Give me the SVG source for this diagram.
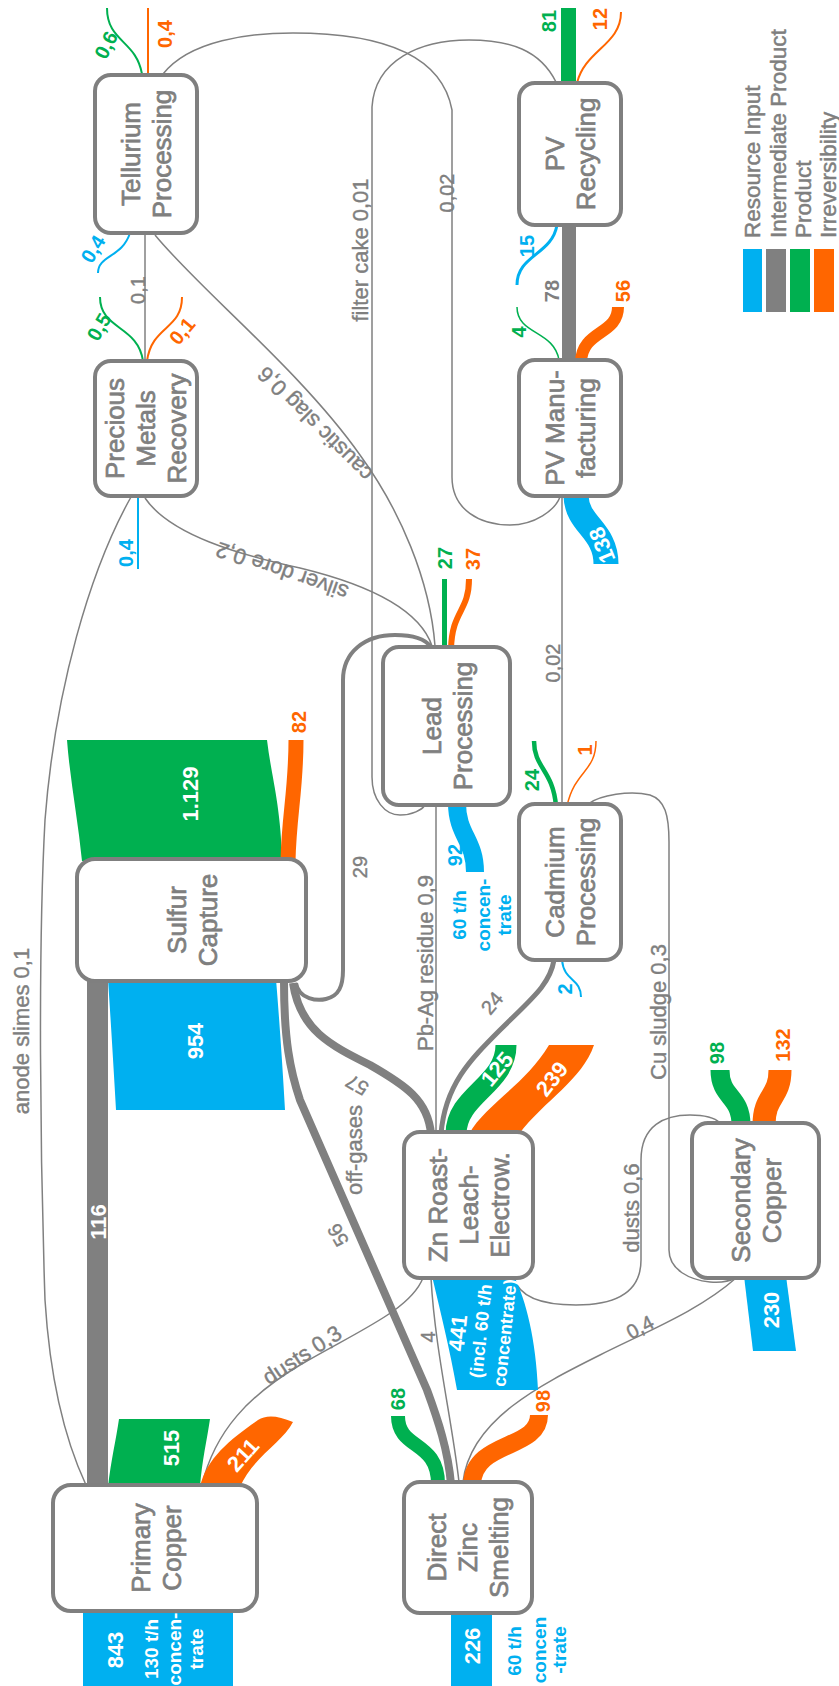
<svg xmlns="http://www.w3.org/2000/svg" width="839" height="1686" viewBox="0 0 839 1686">
<style>
.n{fill:#fff;stroke:#7f7f7f;stroke-width:4}
.nl{font-family:"Liberation Sans",Arial,sans-serif;font-size:26px;fill:#7f7f7f;stroke:#7f7f7f;stroke-width:0.7;text-anchor:middle}
.th{fill:none;stroke:#808080;stroke-width:1.5}
.b{fill:#00b0f0}.g{fill:#00b050}.o{fill:#ff6600}.gr{fill:#808080}
.sb{fill:none;stroke:#00b0f0}.sg{fill:none;stroke:#00b050}.so{fill:none;stroke:#ff6600}.sgr{fill:none;stroke:#808080}
.v{font-family:"Liberation Sans",Arial,sans-serif;font-size:20px;font-weight:bold;text-anchor:middle;dominant-baseline:central}
.vg{font-family:"Liberation Sans",Arial,sans-serif;font-size:20px;fill:#7f7f7f;stroke:#7f7f7f;stroke-width:0.4;text-anchor:middle;dominant-baseline:central}
.t{font-family:"Liberation Sans",Arial,sans-serif;font-size:22px;fill:#7f7f7f;stroke:#7f7f7f;stroke-width:0.4;text-anchor:middle}
.w{font-family:"Liberation Sans",Arial,sans-serif;font-size:22px;font-weight:bold;fill:#fff;text-anchor:middle;dominant-baseline:central}
.bt{font-family:"Liberation Sans",Arial,sans-serif;font-size:19px;font-weight:bold;text-anchor:middle}
.lg{font-family:"Liberation Sans",Arial,sans-serif;font-size:22.5px;fill:#7f7f7f;stroke:#7f7f7f;stroke-width:0.5}
.cb{fill:#00b0f0}.cg{fill:#00b050}.co{fill:#ff6600}.cw{fill:#fff}
</style>
<g id="connectors">
  <path class="th" d="M145,233 L145,361"/>
  <path class="th" d="M436,805 L436,1132"/>
  <path class="th" d="M562,496 L562,804"/>
  <path class="th" d="M431,1278 C435,1350 452,1420 459,1482"/>
  <path class="th" d="M202,1485 C215,1430 250,1395 300,1365 C360,1330 410,1310 423,1278"/>
  <path class="th" d="M86,1485 C65,1440 50,1380 45,1300 C40,1150 38,950 45,820 C55,690 90,570 131,497"/>
  <path class="th" d="M145,498 C170,535 240,555 300,568 C370,585 420,610 432,646"/>
  <path class="th" d="M155,235 C200,290 300,370 360,455 C400,510 430,580 435,646"/>
  <path class="th" d="M163,74 C190,40 250,33 293,33 C360,33 440,45 452,110 L452,477 C452,510 480,525 510,525 C535,525 555,510 560,497"/>
  <path class="th" d="M556,82 C540,50 510,40 469,40 C420,40 375,60 372,107 L372,777 C372,800 385,815 400,815 C412,815 422,810 425,805"/>
  <path class="th" d="M514,1278 C520,1300 550,1305 576,1305 C620,1305 641,1290 641,1260 L641,1160 C641,1125 665,1115 690,1115 C705,1115 715,1118 720,1123"/>
  <path class="th" d="M588,804 C600,795 630,790 650,795 C665,800 669,815 669,842 L669,1250 C669,1270 690,1280 710,1282 C722,1283 730,1281 735,1278"/>
  <path class="th" d="M736,1278 C700,1310 650,1330 600,1355 C540,1385 470,1420 463,1482"/>
  <rect class="b" x="83" y="1609" width="150" height="77"/>
  <rect class="b" x="451" y="1611" width="41" height="75"/>
  <path class="b" d="M744,1276 L786,1276 L796,1351 L753,1351 Z"/>
  <path class="b" d="M108,979 L276,979 Q281,1040 285,1110 L116,1110 Q112,1040 108,979 Z"/>
  <path class="b" d="M432,1276 L514,1276 C526,1300 536,1340 538,1390 L457,1390 C450,1350 440,1310 432,1276 Z"/>
  <path class="g" d="M67,740 L267,740 C271,775 281,805 282,861 L82,861 C78,820 70,780 67,740 Z"/>
  <path class="g" d="M119,1419 L210,1419 C207,1440 202,1460 200,1487 L108,1487 C111,1460 116,1440 119,1419 Z"/>
  <path class="o" d="M200,1487 C206,1458 232,1438 258,1420 Q270,1412 293,1422 C283,1442 252,1458 240,1487 Z"/>
  <path class="o" d="M469,1134 C485,1105 525,1085 549,1045 L594,1045 C582,1080 545,1100 519,1134 Z"/>
  <rect class="gr" x="87" y="979" width="21" height="508"/>
  <rect class="gr" x="562" y="223" width="14" height="139"/>
  <rect class="g" x="561" y="8" width="15" height="77"/>
  <path class="so" stroke-width="15" d="M296,740 C296,790 289,815 288,861"/>
  <path class="sgr" stroke-width="8" d="M284,981 C284,1040 290,1070 300,1100 L427,1390 C438,1420 448,1450 451,1484"/>
  <path class="sgr" stroke-width="8" d="M293,983 C300,1030 330,1045 370,1065 C405,1085 428,1100 431,1134"/>
  <path class="sgr" stroke-width="4" d="M296,983 C299,1000 318,1001 326,999 C339,996 343,986 343,970 L343,680 C343,652 365,635 395,635 C414,635 426,640 431,647"/>
  <path class="sgr" stroke-width="5" d="M441,1134 C445,1085 470,1060 500,1030 C530,1000 550,985 554,960"/>
  <path class="sg" stroke-width="21" d="M456,1134 C456,1095 506,1085 506,1045"/>
  <path class="so" stroke-width="23" d="M764,1125 C764,1095 780,1098 780,1070"/>
  <path class="sg" stroke-width="19" d="M741,1125 C741,1095 720,1098 720,1070"/>
  <path class="sg" stroke-width="14" d="M438,1484 C438,1440 398,1450 398,1416"/>
  <path class="so" stroke-width="18" d="M472,1484 C474,1440 539,1450 539,1415"/>
  <path class="sb" stroke-width="25" d="M576,496 C577,525 606,530 606,564"/>
  <path class="sb" stroke-width="18" d="M457,803 C457,835 475,840 475,872"/>
  <path class="so" stroke-width="12" d="M581,362 C582,330 618,335 618,307"/>
  <path class="so" stroke-width="6" d="M451,649 C452,610 469,612 469,579"/>
  <path class="sg" stroke-width="5" d="M444.5,649 L444.5,579"/>
  <path class="sg" stroke-width="4.5" d="M556,806 C553,770 534,768 534,741"/>
  <path class="so" stroke-width="1.5" d="M567,806 C575,770 596,772 596,741"/>
  <path class="sb" stroke-width="2" d="M562,960 C564,982 581,978 581,997"/>
  <path class="sg" stroke-width="2" d="M142,74 C136,40 107,42 107,8"/>
  <path class="so" stroke-width="2" d="M148,74 L148,8"/>
  <path class="sb" stroke-width="2" d="M130,233 C122,258 98,255 98,273"/>
  <path class="sg" stroke-width="2" d="M143,361 C138,325 100,330 100,297"/>
  <path class="so" stroke-width="2" d="M147,361 C152,325 182,330 182,297"/>
  <path class="sb" stroke-width="2" d="M138,496 L138,569"/>
  <path class="sb" stroke-width="3" d="M557,225 C552,255 517,255 517,285"/>
  <path class="sg" stroke-width="1.5" d="M559,360 C554,330 517,335 517,307"/>
  <path class="so" stroke-width="2" d="M577,83 C585,50 621,45 621,12"/>
  <text class="v cg" transform="translate(106,45) rotate(-63)">0,6</text>
  <text class="v co" transform="translate(165,34) rotate(-90)">0,4</text>
  <text class="v cb" transform="translate(93,249) rotate(-59)">0,4</text>
  <text class="vg" transform="translate(137.5,290) rotate(-90)">0,1</text>
  <text class="v cg" transform="translate(99,327) rotate(-60)">0,5</text>
  <text class="v co" transform="translate(182,331) rotate(-50)">0,1</text>
  <text class="v cb" transform="translate(125.5,553) rotate(-90)">0,4</text>
  <text class="t" transform="translate(368,250) rotate(-90)">filter cake  0,01</text>
  <text class="vg" transform="translate(446.5,193) rotate(-90)">0,02</text>
  <text class="v cg" transform="translate(548.5,21) rotate(-90)">81</text>
  <text class="v co" transform="translate(599.5,19) rotate(-90)">12</text>
  <text class="v cb" transform="translate(526.5,246) rotate(-90)">15</text>
  <text class="v" fill="#7f7f7f" transform="translate(551.5,291) rotate(-90)">78</text>
  <text class="v cg" transform="translate(518.5,332) rotate(-90)">4</text>
  <text class="v co" transform="translate(622.5,291) rotate(-90)">56</text>
  <text class="w" transform="translate(602,545) rotate(-112)">138</text>
  <text class="v cg" transform="translate(445,558) rotate(-90)">27</text>
  <text class="v co" transform="translate(472.5,559) rotate(-90)">37</text>
  <text class="vg" transform="translate(553,663) rotate(-90)">0,02</text>
  <text class="v cg" transform="translate(531.5,780) rotate(-90)">24</text>
  <text class="v co" transform="translate(584.5,750) rotate(-90)">1</text>
  <text class="v co" transform="translate(298.5,722) rotate(-90)">82</text>
  <text class="vg" transform="translate(359.5,867) rotate(-90)">29</text>
  <text class="v cb" transform="translate(564.5,989) rotate(-90)">2</text>
  <text class="v cb" transform="translate(454.5,855) rotate(-90)">92</text>
  <text class="bt cb" transform="translate(466,915) rotate(-90)">60 t/h</text>
  <text class="bt cb" transform="translate(490,915) rotate(-90)">concen-</text>
  <text class="bt cb" transform="translate(511,915) rotate(-90)">trate</text>
  <text class="t" transform="translate(433,963) rotate(-90)">Pb-Ag residue  0,9</text>
  <text class="t" transform="translate(666,1012) rotate(-90)">Cu sludge  0,3</text>
  <text class="v cg" transform="translate(716.5,1053) rotate(-90)">98</text>
  <text class="v co" transform="translate(782.5,1045) rotate(-90)">132</text>
  <text class="t" transform="translate(639,1208) rotate(-90)">dusts  0,6</text>
  <text class="t" transform="translate(362,1150) rotate(-90)">off-gases</text>
  <text class="vg" transform="translate(357,1085) rotate(210)">57</text>
  <text class="vg" transform="translate(338,1235) rotate(240)">56</text>
  <text class="vg" transform="translate(492,1003) rotate(-50)">24</text>
  <text class="w" transform="translate(497,1069) rotate(-50)">125</text>
  <text class="w" transform="translate(552,1079) rotate(-52)">239</text>
  <text class="vg" transform="translate(427.5,1337) rotate(-90)">4</text>
  <text class="vg" transform="translate(640,1327) rotate(-28)">0,4</text>
  <text class="vg" style="font-size:22px" transform="translate(302,1355) rotate(-33)">dusts  0,3</text>
  <text class="v cg" transform="translate(397.5,1399) rotate(-90)">68</text>
  <text class="v co" transform="translate(542.5,1401) rotate(-90)">98</text>
  <text class="w" transform="translate(243,1455) rotate(-48)">211</text>
  <text class="w" transform="translate(171.5,1448) rotate(-90)">515</text>
  <text class="w" transform="translate(98.5,1222) rotate(-90)">116</text>
  <text class="w" transform="translate(195.5,1041) rotate(-90)">954</text>
  <text class="w" transform="translate(190,794) rotate(-90)">1.129</text>
  <text class="w" transform="translate(771.5,1310) rotate(-90)">230</text>
  <text class="w" transform="translate(472.5,1646) rotate(-90)">226</text>
  <text class="bt cb" transform="translate(521,1651) rotate(-90)">60 t/h</text>
  <text class="bt cb" transform="translate(546,1650) rotate(-90)">concen</text>
  <text class="bt cb" transform="translate(566,1650) rotate(-90)">-trate</text>
  <text class="w" transform="translate(115.5,1650) rotate(-90)">843</text>
  <text class="bt cw" transform="translate(158,1649) rotate(-90)">130 t/h</text>
  <text class="bt cw" transform="translate(181,1649) rotate(-90)">concen-</text>
  <text class="bt cw" transform="translate(203,1649) rotate(-90)">trate</text>
  <text class="w" transform="translate(458,1333) rotate(-84)">441</text>
  <text class="bt cw" style="dominant-baseline:central;font-size:18px" transform="translate(481,1331) rotate(-84)">(incl. 60 t/h</text>
  <text class="bt cw" style="dominant-baseline:central;font-size:18px" transform="translate(505,1333) rotate(-84)">concentrate)</text>
  <text class="t" transform="translate(29,1031) rotate(-90)">anode slimes  0,1</text>
  <text class="vg" style="font-size:22px" transform="translate(282,571) rotate(199)">silver dore  0,2</text>
  <text class="vg" style="font-size:22px" transform="translate(315,424) rotate(225)">caustic slag  0,6</text>
</g>
<g id="tellurium"><rect class="n" x="95" y="75" width="102" height="158" rx="16"/><text class="nl" transform="translate(146,154) rotate(-90)"><tspan x="0" y="-6.2">Tellurium</tspan><tspan x="0" y="24.8">Processing</tspan></text></g>
<g id="precious"><rect class="n" x="95" y="361" width="102" height="135" rx="16"/><text class="nl" transform="translate(146,428.5) rotate(-90)"><tspan x="0" y="-21.7">Precious</tspan><tspan x="0" y="9.3">Metals</tspan><tspan x="0" y="40.3">Recovery</tspan></text></g>
<g id="pvrecycling"><rect class="n" x="519" y="83" width="102" height="142" rx="16"/><text class="nl" transform="translate(570,154) rotate(-90)"><tspan x="0" y="-6.2">PV</tspan><tspan x="0" y="24.8">Recycling</tspan></text></g>
<g id="pvmanufacturing"><rect class="n" x="519" y="360" width="102" height="136" rx="16"/><text class="nl" transform="translate(570,428) rotate(-90)"><tspan x="0" y="-6.2">PV Manu-</tspan><tspan x="0" y="24.8">facturing</tspan></text></g>
<g id="lead"><rect class="n" x="383" y="647" width="127" height="158" rx="16"/><text class="nl" transform="translate(447,726) rotate(-90)"><tspan x="0" y="-6.2">Lead</tspan><tspan x="0" y="24.8">Processing</tspan></text></g>
<g id="cadmium"><rect class="n" x="519" y="804" width="102" height="156" rx="16"/><text class="nl" transform="translate(570,882) rotate(-90)"><tspan x="0" y="-6.2">Cadmium</tspan><tspan x="0" y="24.8">Processing</tspan></text></g>
<g id="sulfur"><rect class="n" x="77" y="859" width="229" height="122" rx="18"/><text class="nl" transform="translate(192,920) rotate(-90)"><tspan x="0" y="-6.2">Sulfur</tspan><tspan x="0" y="24.8">Capture</tspan></text></g>
<g id="znroast"><rect class="n" x="404" y="1132" width="129" height="146" rx="16"/><text class="nl" transform="translate(468.5,1205) rotate(-90)"><tspan x="0" y="-21.7">Zn Roast-</tspan><tspan x="0" y="9.3">Leach-</tspan><tspan x="0" y="40.3">Electrow.</tspan></text></g>
<g id="secondarycopper"><rect class="n" x="692" y="1123" width="127" height="155" rx="16"/><text class="nl" transform="translate(756,1200.5) rotate(-90)"><tspan x="0" y="-6.2">Secondary</tspan><tspan x="0" y="24.8">Copper</tspan></text></g>
<g id="primarycopper"><rect class="n" x="53" y="1485" width="204" height="126" rx="18"/><text class="nl" transform="translate(156,1548) rotate(-90)"><tspan x="0" y="-6.2">Primary</tspan><tspan x="0" y="24.8">Copper</tspan></text></g>
<g id="directzinc"><rect class="n" x="404" y="1482" width="128" height="131" rx="16"/><text class="nl" transform="translate(468,1547.5) rotate(-90)"><tspan x="0" y="-21.7">Direct</tspan><tspan x="0" y="9.3">Zinc</tspan><tspan x="0" y="40.3">Smelting</tspan></text></g>
<g id="legend">
  <rect class="b" x="743" y="249" width="19" height="63"/>
  <rect class="gr" x="766" y="249" width="20" height="63"/>
  <rect class="g" x="790" y="249" width="20" height="63"/>
  <rect class="o" x="814" y="249" width="20" height="63"/>
  <text class="lg" transform="translate(760,238) rotate(-90)">Resource Input</text>
  <text class="lg" transform="translate(786,238) rotate(-90)">Intermediate Product</text>
  <text class="lg" transform="translate(811,238) rotate(-90)">Product</text>
  <text class="lg" transform="translate(836,238) rotate(-90)">Irreversibility</text>
</g>
</svg>
